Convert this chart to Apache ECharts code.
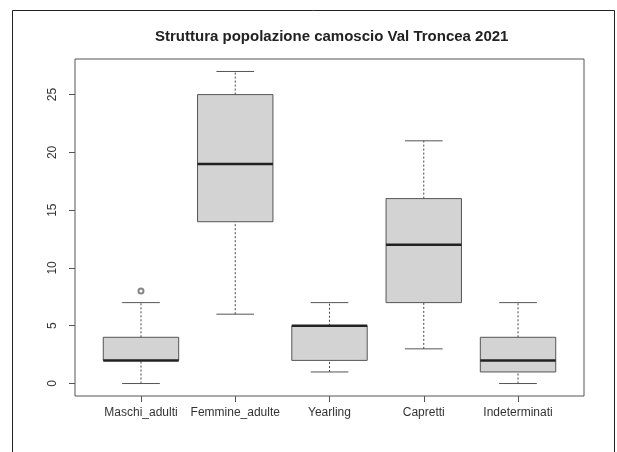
<!DOCTYPE html>
<html>
<head>
<meta charset="utf-8">
<script src="https://cdn.jsdelivr.net/npm/echarts@6/dist/echarts.min.js"></script>
<style>
  html, body { margin: 0; padding: 0; background: #fff; }
  #chart { width: 617px; height: 452px; }
</style>
</head>
<body>
<div id="chart"></div>
<script>
// boxplot stats
var categories = ['Maschi_adulti', 'Femmine_adulte', 'Yearling', 'Capretti', 'Indeterminati'];
var lowWhisker = [0, 6, 1, 3, 0];
var q1 = [2, 14, 2, 7, 1];
var median = [2, 19, 5, 12, 2];
var q3 = [4, 25, 5, 16, 4];
var highWhisker = [7, 27, 7, 21, 7];
var outlierCat = [1];
var outlierVal = [8];
var yTicks = [0, 5, 10, 15, 20, 25];
var xTicks = [1, 2, 3, 4, 5];

var boxData = categories.map(function (c, i) {
  return [i + 1, lowWhisker[i], q1[i], median[i], q3[i], highWhisker[i]];
});
var outData = outlierCat.map(function (c, i) { return [c, outlierVal[i]]; });

var chart = echarts.init(document.getElementById('chart'));

chart.setOption({
  animation: false,
  backgroundColor: '#fff',
  textStyle: { fontFamily: 'Liberation Sans, Arial, sans-serif' },
  title: {
    text: 'Struttura popolazione camoscio Val Troncea 2021',
    left: 150, top: 24,
    textStyle: { fontSize: 15, fontWeight: 'bold', color: '#222' }
  },
  graphic: [{
    type: 'rect', silent: true, z: 100,
    shape: { x: 12.5, y: 10.5, width: 602, height: 470 },
    style: { fill: 'none', stroke: '#222', lineWidth: 1 }
  }],
  grid: {
    left: 75, right: 33, top: 59, bottom: 56,
    show: true, borderColor: '#555', borderWidth: 1, backgroundColor: 'transparent'
  },
  xAxis: {
    type: 'value', min: 0.3, max: 5.7,
    axisLine: { show: false, onZero: false },
    splitLine: { show: false },
    axisTick: { show: true, customValues: xTicks, length: 6, lineStyle: { color: '#555' } },
    axisLabel: {
      customValues: xTicks, margin: 11, fontSize: 12, color: '#333',
      formatter: function (v) { return categories[Math.round(v) - 1] || ''; }
    }
  },
  yAxis: {
    type: 'value', min: -1.08, max: 28.08,
    axisLine: { show: false, onZero: false },
    splitLine: { show: false },
    axisTick: { show: true, customValues: yTicks, length: 6, lineStyle: { color: '#555' } },
    axisLabel: { customValues: yTicks, rotate: 90, margin: 16, fontSize: 12, color: '#333' }
  },
  series: [{
    type: 'custom',
    data: boxData,
    renderItem: function (params, api) {
      var x = api.value(0);
      var lo = api.coord([x, api.value(1)]);
      var a = api.coord([x, api.value(2)]);
      var m = api.coord([x, api.value(3)]);
      var b = api.coord([x, api.value(4)]);
      var hi = api.coord([x, api.value(5)]);
      var w = api.size([0.8, 0])[0];
      var cx = lo[0];
      var dash = { stroke: '#444', lineWidth: 1, lineDash: [2, 2] };
      var solid = { stroke: '#555', lineWidth: 1 };
      return {
        type: 'group',
        children: [
          { type: 'line', shape: { x1: cx, y1: lo[1], x2: cx, y2: a[1] }, style: dash },
          { type: 'line', shape: { x1: cx, y1: b[1], x2: cx, y2: hi[1] }, style: dash },
          { type: 'line', shape: { x1: cx - w / 4, y1: lo[1], x2: cx + w / 4, y2: lo[1] }, style: solid },
          { type: 'line', shape: { x1: cx - w / 4, y1: hi[1], x2: cx + w / 4, y2: hi[1] }, style: solid },
          { type: 'rect', shape: { x: cx - w / 2, y: b[1], width: w, height: a[1] - b[1] },
            style: { fill: '#d3d3d3', stroke: '#555', lineWidth: 1 } },
          { type: 'line', shape: { x1: cx - w / 2, y1: m[1], x2: cx + w / 2, y2: m[1] },
            style: { stroke: '#222', lineWidth: 2.5 } }
        ]
      };
    }
  }, {
    type: 'scatter',
    data: outData,
    symbol: 'emptyCircle',
    symbolSize: 5,
    itemStyle: { color: '#666', borderWidth: 1 }
  }]
});
</script>
</body>
</html>
